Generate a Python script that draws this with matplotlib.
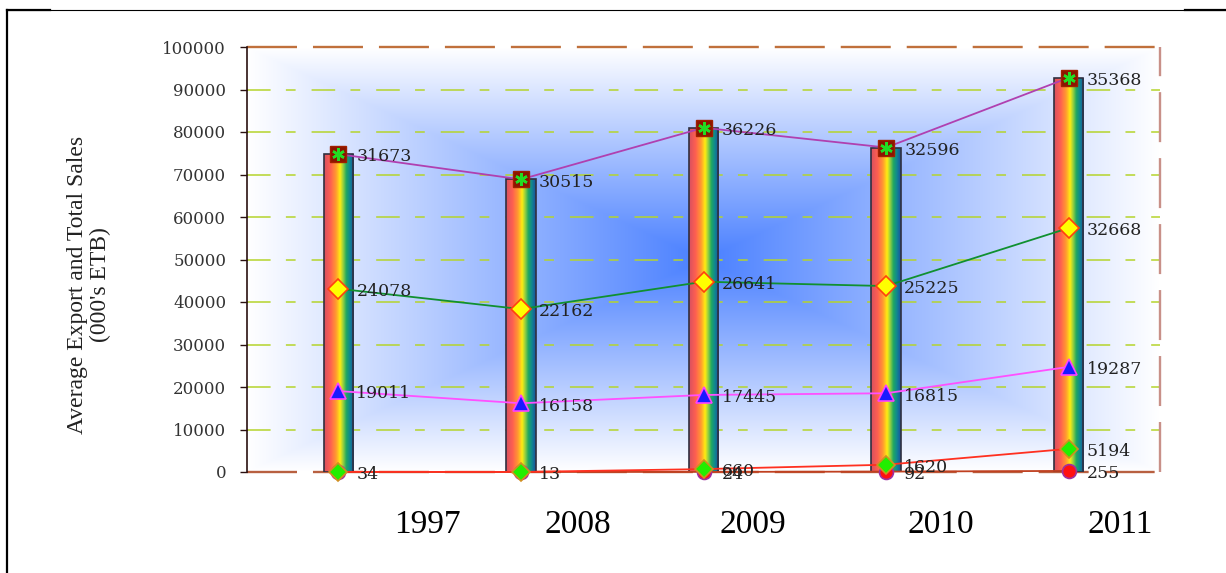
import numpy as np
import matplotlib
matplotlib.use("Agg")
import matplotlib.pyplot as plt
from matplotlib.colors import LinearSegmentedColormap, to_rgb
from matplotlib.lines import Line2D

plt.rcParams["lines.scale_dashes"] = False

# ---- data -------------------------------------------------------------
years = ["1997", "2008", "2009", "2010", "2011"]
s_circle = [0, 0, 24, 92, 255]
s_green = [34, 13, 660, 1620, 5194]
s_triangle = [19011, 16158, 17445, 16815, 19287]
s_yellow = [24078, 22162, 26641, 25225, 32668]
s_square = [31673, 30515, 36226, 32596, 35368]
y_ticks = list(range(0, 100001, 10000))

# horizontal shift of each year caption relative to its column
year_label_shift = [0.49, 0.31, 0.27, 0.30, 0.28]

# ---- figure -----------------------------------------------------------
W, H = 1226, 573
fig = plt.figure(figsize=(W / 100, H / 100), dpi=100)
fig.patch.set_facecolor("white")
ax = fig.add_axes([247 / W, 101 / H, 913 / W, 425 / H])
n = len(years)
ax.set_xlim(0, n)
ax.set_ylim(0, 100000)
x = np.arange(n) + 0.5

# rectangular blue glow behind the plot
gx = np.linspace(-1, 1, 500)
gy = np.linspace(-1, 1, 300)
U, V = np.meshgrid(gx, gy)
t = np.clip(1 - np.maximum(np.abs(U), np.abs(V)), 0, 1) ** 1.0
c_edge = np.array([1.0, 1.0, 1.0])
c_mid = np.array(to_rgb("#4a80ff"))
bg = c_edge + (c_mid - c_edge) * t[..., None]
ax.imshow(bg, extent=[0, n, 0, 100000], aspect="auto", zorder=0,
          interpolation="bilinear")

# dashed grid
for yv in y_ticks[1:-1]:
    ax.axhline(yv, color="#b5d42c", lw=1.1, zorder=1,
               linestyle=(0, (17, 11, 7, 11.5)))

# frame
for side in ("top", "right", "bottom"):
    ax.spines[side].set_visible(False)
ax.spines["left"].set_color("#2a1010")
ax.spines["left"].set_linewidth(1.2)
ax.spines["left"].set_zorder(6)
ax.axhline(100000, color="#c0703c", lw=1.7, linestyle=(0, (36, 11.5)),
           clip_on=False, zorder=5)
ax.axvline(n, color="#c89088", lw=1.7, linestyle=(0, (36, 11.5)),
           clip_on=False, zorder=5)
ax.axhline(0, color="#b86040", lw=1.7, linestyle=(0, (36, 11.5)),
           clip_on=False, zorder=1.5)

# stacked levels
series = [s_circle, s_green, s_triangle, s_yellow, s_square]
levels = np.cumsum(np.array(series, dtype=float), axis=0)
totals = levels[-1]

# rainbow columns
rainbow = LinearSegmentedColormap.from_list("rainbow_col", [
    (0.00, "#d85060"), (0.22, "#ff6050"), (0.40, "#ff9a30"),
    (0.54, "#ffec10"), (0.64, "#98d040"), (0.75, "#20a860"),
    (0.87, "#108890"), (1.00, "#1a50a0")])
grad = rainbow(np.linspace(0, 1, 64))[None, :, :3]
bars = ax.bar(x, totals, width=0.16, facecolor="none",
              edgecolor="#303040", linewidth=1.2, zorder=3)
for b in bars:
    x0, w, h = b.get_x(), b.get_width(), b.get_height()
    im = ax.imshow(grad, extent=[x0, x0 + w, 0, h], aspect="auto",
                   zorder=2, interpolation="bilinear")
    im.set_clip_path(b)

# lines and markers
line_kw = dict(lw=1.3, clip_on=False)
ax.plot(x, levels[0], color="#c04020", zorder=8, marker="o", ms=10,
        mfc="#ff1010", mec="#a030a0", mew=1.2, **line_kw)
ax.plot(x, levels[1], color="#ff3020", zorder=8.1, marker="D", ms=9,
        mfc="#22ee00", mec="#d09020", mew=1.2, **line_kw)
ax.plot(x, levels[2], color="#ff50ff", zorder=8, marker="^", ms=12,
        mfc="#1a1aff", mec="#ff40ff", mew=1.2, **line_kw)
ax.plot(x, levels[3], color="#109030", zorder=8, marker="D", ms=10,
        mfc="#ffff00", mec="#ff4010", mew=1.2, **line_kw)
ax.plot(x, levels[4], color="#b040b0", zorder=8, marker="s", ms=11.5,
        mfc="#8b1500", mec="#a02000", mew=1.0, **line_kw)
ax.plot(x, levels[4], ls="none", zorder=8.2, clip_on=False,
        marker=(6, 2, 0), ms=9, mec="#22dd22", mew=1.8)

# value labels
label_font = dict(family="DejaVu Serif", fontsize=12.5, color="#222222")
for vals, lev in zip(series, levels):
    for xi, v, yv in zip(x, vals, lev):
        if v <= 0:
            continue
        ax.annotate(f"{v}", (xi, yv), xytext=(13, -2),
                    textcoords="offset points", ha="left", va="center",
                    zorder=9, annotation_clip=False, **label_font)

# axes ticks
ax.set_yticks(y_ticks)
ax.set_yticklabels([str(v) for v in y_ticks], family="DejaVu Serif")
ax.tick_params(axis="y", length=5, width=1, color="#2a1010", pad=10,
               labelsize=12, labelcolor="#333333")
ax.set_xticks(x + np.array(year_label_shift))
ax.set_xticklabels(years, family="Liberation Serif", fontsize=24)
ax.tick_params(axis="x", length=0, pad=27, labelcolor="black")

fig.text(89 / W, 1 - 285 / H, "Average Export and Total Sales\n(000's ETB)",
         rotation=90, ha="center", va="center", multialignment="center",
         family="Liberation Serif", fontsize=17, color="#222222",
         linespacing=1.15)

# surrounding cell border
yb = 1 - 10 / H
fig.add_artist(Line2D([7 / W, 7 / W], [0, yb], color="black", lw=1.6))
fig.add_artist(Line2D([7 / W, 1], [yb, yb], color="black", lw=0.8))
fig.add_artist(Line2D([7 / W, 50 / W], [yb, yb], color="black", lw=1.6))
fig.add_artist(Line2D([1185 / W, 1], [yb, yb], color="black", lw=1.6))

fig.savefig("out.png", dpi=100)
